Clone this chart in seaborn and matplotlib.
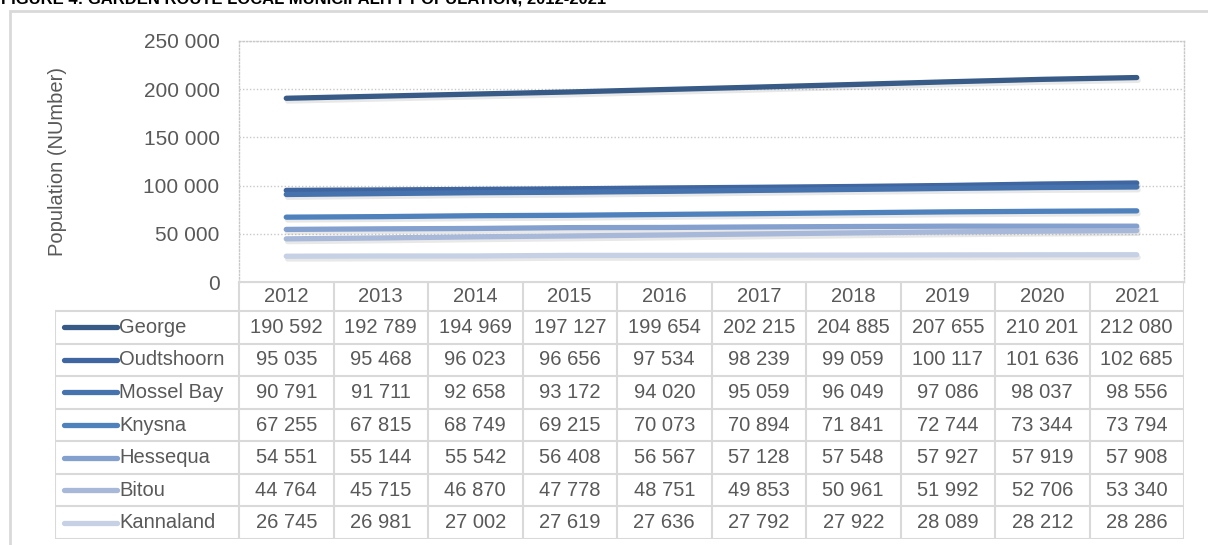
import numpy as np
import pandas as pd
import matplotlib
matplotlib.use("Agg")
import matplotlib.pyplot as plt
import matplotlib.patheffects as pe
from matplotlib.patches import Rectangle
import seaborn as sns

#----------DATA------------#
years = [2012, 2013, 2014, 2015, 2016, 2017, 2018, 2019, 2020, 2021]
municipalities = ["George", "Oudtshoorn", "Mossel Bay", "Knysna", "Hessequa", "Bitou", "Kannaland"]
george     = [190592, 192789, 194969, 197127, 199654, 202215, 204885, 207655, 210201, 212080]
oudtshoorn = [95035, 95468, 96023, 96656, 97534, 98239, 99059, 100117, 101636, 102685]
mossel_bay = [90791, 91711, 92658, 93172, 94020, 95059, 96049, 97086, 98037, 98556]
knysna     = [67255, 67815, 68749, 69215, 70073, 70894, 71841, 72744, 73344, 73794]
hessequa   = [54551, 55144, 55542, 56408, 56567, 57128, 57548, 57927, 57919, 57908]
bitou      = [44764, 45715, 46870, 47778, 48751, 49853, 50961, 51992, 52706, 53340]
kannaland  = [26745, 26981, 27002, 27619, 27636, 27792, 27922, 28089, 28212, 28286]
y_ticks = [0, 50000, 100000, 150000, 200000, 250000]

colors = ["#375A87", "#3F66A0", "#4672AD", "#4F81BD", "#84A0CE", "#A7B8D9", "#C6D1E6"]
series = [george, oudtshoorn, mossel_bay, knysna, hessequa, bitou, kannaland]

df = pd.DataFrame({
    "Year": np.tile(years, len(municipalities)),
    "Municipality": np.repeat(municipalities, len(years)),
    "Population": np.concatenate(series),
})

def fmt(v):
    return f"{v:,}".replace(",", " ")

#----------STYLE-----------#
sns.set_style("white")
plt.rcParams["font.family"] = ["Liberation Sans", "DejaVu Sans"]
TXT = "#595959"
GRID = "#D9D9D9"
FS = 14.5

W, H = 1208, 545
fig = plt.figure(figsize=(W / 100, H / 100), dpi=100)

def fx(px):
    return px / W

def fy(px):
    return 1 - px / H

# outer frame
fig.add_artist(Rectangle((fx(10), -0.1), 1.2, fy(11) + 0.1, transform=fig.transFigure,
                         fill=False, edgecolor=GRID, lw=2))
# title, clipped at the top like the source
fig.text(fx(1), fy(4), "FIGURE 4: GARDEN ROUTE LOCAL MUNICIPALITY POPULATION, 2012-2021",
         fontsize=12, fontweight="bold", color="black", va="baseline", ha="left")

#----------LINES-----------#
L, R, T, B = 239, 1184, 41, 282
ax = fig.add_axes([fx(L), fy(B), fx(R) - fx(L), fy(T) - fy(B)])
sns.lineplot(data=df, x="Year", y="Population", hue="Municipality", hue_order=municipalities,
             palette=colors, linewidth=3.8, legend=False, ax=ax)
for line in ax.get_lines():
    line.set_solid_capstyle("round")
    line.set_path_effects([pe.SimpleLineShadow(offset=(1, -2), shadow_color="#8C8C8C", alpha=0.2),
                           pe.Normal()])

ax.set_xlim(years[0] - 0.5, years[-1] + 0.5)
ax.set_ylim(0, 250000)
ax.set_yticks(y_ticks)
ax.set_yticklabels([fmt(v) for v in y_ticks], fontsize=15, color=TXT)
ax.set_xticks([])
ax.tick_params(axis="y", length=0, pad=14)
ax.set_xlabel("")
ax.set_ylabel("Population (NUmber)", fontsize=FS, color=TXT)
ax.yaxis.set_label_coords((67 - L) / (R - L), 0.5)
ax.yaxis.grid(True, linestyle=(0, (1, 1.5)), color="#C8C8C8", lw=1)
for s in ["left", "right", "top"]:
    ax.spines[s].set_linestyle((0, (1, 1.5)))
    ax.spines[s].set_color("#C8C8C8")
    ax.spines[s].set_linewidth(1)
ax.spines["bottom"].set_color(GRID)
ax.spines["bottom"].set_linewidth(1.5)

#----------TABLE-----------#
TL, TB = 55, 539
col_w = (R - L) / len(years)
label_w = (L - TL) / col_w
head_h = 29 / 32.5
n = len(municipalities)
tax = fig.add_axes([fx(TL), fy(TB), fx(R) - fx(TL), fy(B) - fy(TB)])
tax.set_xlim(years[0] - 0.5 - label_w, years[-1] + 0.5)
tax.set_ylim(0, n + head_h)
tax.axis("off")

lw = 1.5
# horizontal lines
tax.plot([years[0] - 0.5, years[-1] + 0.5], [n + head_h] * 2, color=GRID, lw=lw)
for r in range(n + 1):
    tax.plot([years[0] - 0.5 - label_w, years[-1] + 0.5], [r, r], color=GRID, lw=lw)
# vertical lines
tax.plot([years[0] - 0.5 - label_w] * 2, [0, n], color=GRID, lw=lw)
for yr in years + [years[-1] + 1]:
    tax.plot([yr - 0.5] * 2, [0, n + head_h], color=GRID, lw=lw)

for yr in years:
    tax.text(yr, n + head_h / 2, str(yr), ha="center", va="center", fontsize=FS, color=TXT)

x0 = years[0] - 0.5 - label_w
for i, (name, vals, c) in enumerate(zip(municipalities, series, colors)):
    yc = n - i - 0.5
    tax.plot([x0 + 0.1, x0 + 0.66], [yc, yc], color=c, lw=3.8, solid_capstyle="round")
    tax.text(x0 + 0.68, yc, name, ha="left", va="center", fontsize=FS, color=TXT)
    for yr, v in zip(years, vals):
        tax.text(yr, yc, fmt(v), ha="center", va="center", fontsize=FS, color=TXT)

fig.savefig("out.png", dpi=100)
